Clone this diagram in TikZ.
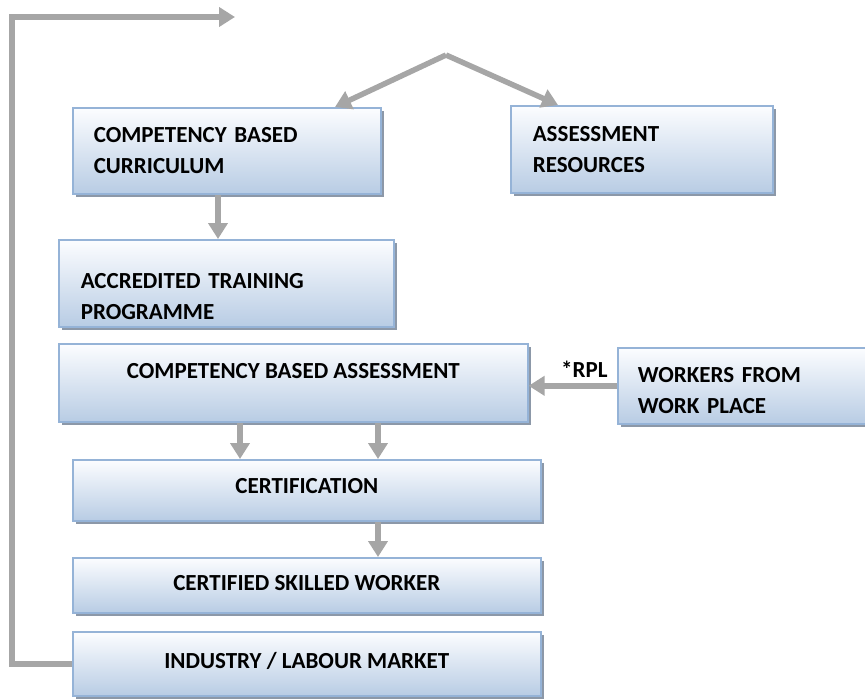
\documentclass[tikz,border=0pt]{standalone}
\usepackage{fontspec}
\setmainfont{Carlito}
\usetikzlibrary{arrows.meta, shadows}

\definecolor{boxline}{RGB}{149,179,215}
\definecolor{boxtop}{RGB}{252,253,255}
\definecolor{boxbottom}{RGB}{184,204,228}
\definecolor{boxshadow}{RGB}{140,152,168}
\definecolor{flowgray}{RGB}{166,166,166}

\begin{document}
\begin{tikzpicture}[x=1pt, y=-1pt]
    % Define display style
    \tikzstyle{box}=[draw=boxline, line width=1.6pt, top color=boxtop, bottom color=boxbottom,
        drop shadow={shadow xshift=3pt, shadow yshift=-3pt, fill=boxshadow, opacity=1},
        anchor=north west, inner xsep=21pt, inner ysep=0pt,
        font=\fontsize{23}{31}\selectfont\bfseries]
    \tikzstyle{flow}=[draw=flowgray, line width=5.5pt, -{Triangle[width=19pt, length=16pt]}]

    % Fix the page size
    \useasboundingbox (0,0) rectangle (865,699);

    % Define x positions of the vertical arrows
    \newcommand\DownX{218}
    \newcommand\LeftDropX{240}
    \newcommand\RightDropX{378}

    % Create shortcuts for coordinates
    \coordinate (apex) at (446,55);
    \coordinate (currin) at (335,0);
    \coordinate (resin) at (558,0);
    \coordinate (down) at (\DownX,0);
    \coordinate (leftdrop) at (\LeftDropX,0);
    \coordinate (rightdrop) at (\RightDropX,0);
    \coordinate (loopcorner) at (12,17);
    \coordinate (loopend) at (235,17);

    % Draw the boxes
    \node[box, minimum width=308pt, minimum height=86pt, text width=266pt, align=left]
        (curr) at (72,107) {COMPETENCY BASED\\CURRICULUM};
    \node[box, minimum width=262pt, minimum height=87pt, text width=218pt, align=left, inner xsep=22pt]
        (res) at (510,105) {ASSESSMENT\\RESOURCES};
    \node[box, minimum width=335pt, minimum height=87pt, text width=291pt, align=left, inner xsep=22pt, text depth=5pt]
        (acc) at (58,239) {ACCREDITED TRAINING\\PROGRAMME};
    \node[box, minimum width=469pt, minimum height=78pt, text depth=24pt]
        (cba) at (58,343) {COMPETENCY BASED ASSESSMENT};
    \node[box, minimum width=262pt, minimum height=76pt, text width=222pt, align=left, inner xsep=20pt, text height=25pt]
        (wp) at (617,347) {WORKERS FROM\\WORK PLACE};
    \node[box, minimum width=468pt, minimum height=61pt, text depth=8pt]
        (cert) at (72,459) {CERTIFICATION};
    \node[box, minimum width=468pt, minimum height=55pt, text depth=5pt]
        (csw) at (72,557) {CERTIFIED SKILLED WORKER};
    \node[box, minimum width=468pt, minimum height=64pt, text depth=6pt]
        (ind) at (72,631) {INDUSTRY / LABOUR MARKET};

    % Draw the arrows
    \draw[flow] (apex) -- (curr.north -| currin);
    \draw[flow] (apex) -- (res.north -| resin);
    \draw[flow] (curr.south -| down) -- (acc.north -| down);
    \draw[flow] (cba.south -| leftdrop) -- (cert.north -| leftdrop);
    \draw[flow] (cba.south -| rightdrop) -- (cert.north -| rightdrop);
    \draw[flow] (cert.south -| rightdrop) -- (csw.north -| rightdrop);
    \draw[flow] (wp.west) -- (wp.west -| cba.east)
        node[pos=0.37, above=3pt, inner sep=3pt, font=\fontsize{23}{31}\selectfont\bfseries] (rpl) {*RPL};

    % Draw the loop back from the market
    \draw[flow] (ind.west) -| (loopcorner) -- (loopend);
\end{tikzpicture}
\end{document}
